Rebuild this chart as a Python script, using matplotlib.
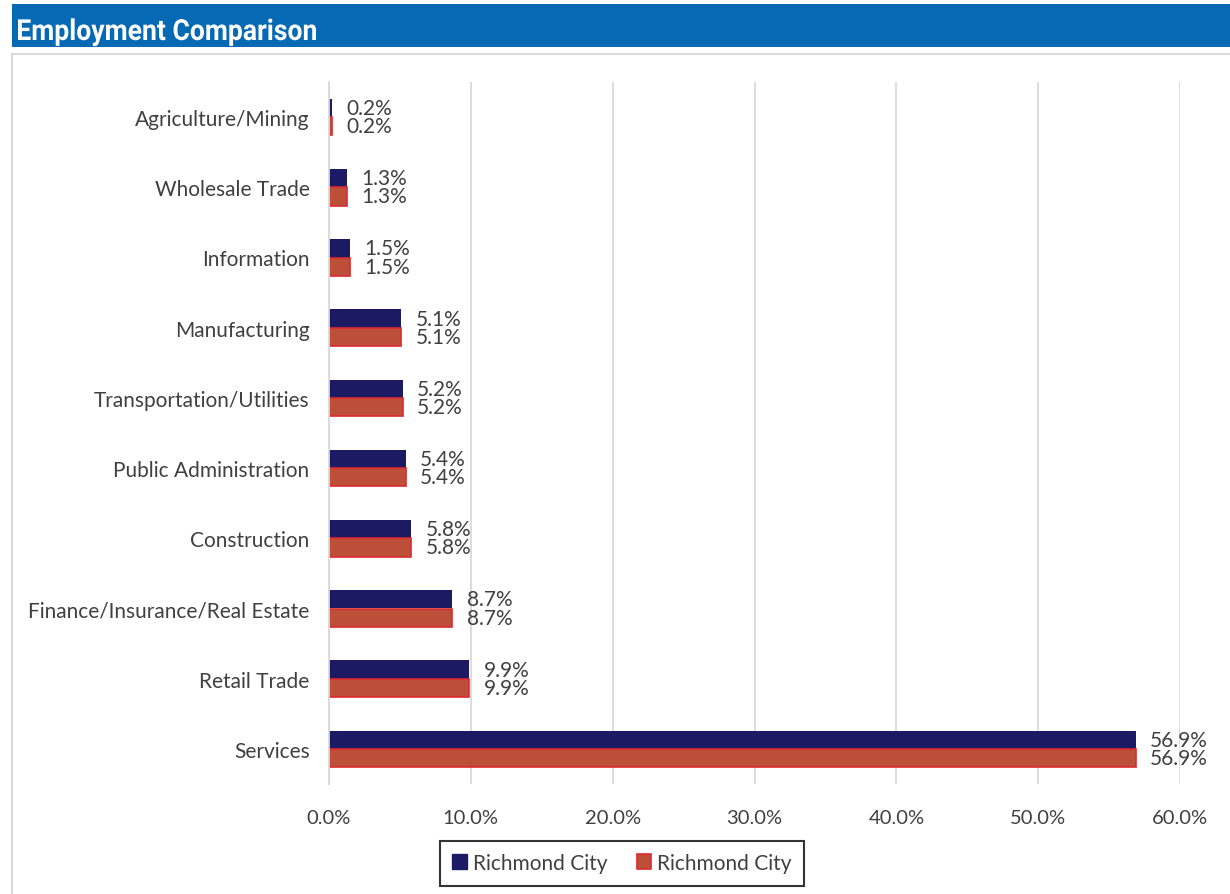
import matplotlib.pyplot as plt
from matplotlib.patches import Rectangle, Patch, PathPatch
from matplotlib.textpath import TextPath
from matplotlib.font_manager import FontProperties
from matplotlib.transforms import Affine2D
import numpy as np

categories = ['Agriculture/Mining', 'Wholesale Trade', 'Information', 'Manufacturing',
              'Transportation/Utilities', 'Public Administration', 'Construction',
              'Finance/Insurance/Real Estate', 'Retail Trade', 'Services']
city_a = [0.2, 1.3, 1.5, 5.1, 5.2, 5.4, 5.8, 8.7, 9.9, 56.9]
city_b = [0.2, 1.3, 1.5, 5.1, 5.2, 5.4, 5.8, 8.7, 9.9, 56.9]
series_names = ['Richmond City', 'Richmond City']
xticks = [0, 10, 20, 30, 40, 50, 60]

plt.rcParams['font.family'] = ['Lato', 'DejaVu Sans']
text_col = '#404040'
W, H = 1230, 895

fig = plt.figure(figsize=(W / 100, H / 100), dpi=100)
px = Affine2D().scale(1 / W, 1 / H) + fig.transFigure  # pixel coords, origin bottom-left

# header band and panel frame
fig.add_artist(Rectangle((12, H - 48), W - 12, 43, transform=px,
                         facecolor='#0569B4', edgecolor='none', zorder=0))
fig.add_artist(Rectangle((12, -5), W, H - 55 + 5, transform=px,
                         facecolor='none', edgecolor='#D9D9D9', lw=1.5, zorder=0))

# condensed bold title: squeeze a Roboto Bold outline to the header width
title = TextPath((0, 0), 'Employment Comparison', size=29,
                 prop=FontProperties(family='Roboto', weight='bold'))
ext = title.get_extents()
sx = 298 / ext.width
fig.add_artist(PathPatch(title, transform=Affine2D().scale(sx, 1).translate(18 - ext.x0 * sx, H - 41) + px,
                         facecolor='white', edgecolor='none', zorder=2))

ax = fig.add_axes([329 / W, 1 - 785 / H, (1180 - 329) / W, (785 - 83) / H])

y = np.arange(len(categories))
h = 0.26
ax.barh(y - h / 2, city_a, height=h, color='#1C1A63', zorder=3)
ax.barh(y + h / 2, city_b, height=h, color='#BD4E3A', edgecolor='#DC2A2E', lw=1.2, zorder=3)

for yi, a, b in zip(y, city_a, city_b):
    ax.text(a + 1.0, yi - h / 2, f'{a:.1f}%', va='center', ha='left', fontsize=15, color=text_col)
    ax.text(b + 1.0, yi + h / 2, f'{b:.1f}%', va='center', ha='left', fontsize=15, color=text_col)

ax.set_ylim(len(categories) - 0.5, -0.5)
ax.set_xlim(0, 60)
ax.set_yticks(y)
ax.set_yticklabels(categories, fontsize=15, color=text_col)
ax.set_xticks(xticks)
ax.set_xticklabels([f'{t:.1f}%' for t in xticks], fontsize=14.5, color=text_col)
ax.tick_params(length=0, pad=14, axis='y')
ax.tick_params(length=0, pad=18, axis='x')
ax.xaxis.grid(True, color='#D9D9D9', lw=1.3, zorder=0)
for s in ['top', 'right', 'bottom']:
    ax.spines[s].set_visible(False)
ax.spines['left'].set_color('#D9D9D9')
ax.spines['left'].set_linewidth(1.3)
ax.spines['left'].set_zorder(4)

handles = [Patch(facecolor='#1C1A63', edgecolor='#1C1A63'),
           Patch(facecolor='#BD4E3A', edgecolor='#DC2A2E', lw=1.2)]
leg = fig.legend(handles, series_names, loc='center', bbox_to_anchor=(622 / W, 1 - 864 / H),
                 ncol=2, fontsize=15, frameon=True, fancybox=False, handlelength=0.7,
                 handleheight=0.7, handletextpad=0.3, columnspacing=1.4, borderpad=0.6,
                 borderaxespad=0, labelcolor=text_col)
leg.get_frame().set_edgecolor('black')
leg.get_frame().set_linewidth(1.5)

fig.savefig('out.png', dpi=100)
